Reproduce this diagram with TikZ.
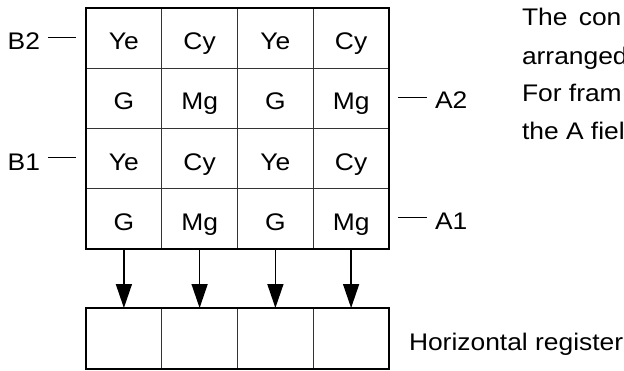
\documentclass[tikz,border=0pt]{standalone}
\usepackage{fontspec}
\setmainfont{Liberation Sans}[FakeStretch=1.1]
\usetikzlibrary{arrows.meta}
\tikzset{
  cell/.style={draw=black!80, line width=0.9pt, minimum width=75.75pt,
    minimum height=60.25pt, inner sep=0pt, outer sep=0pt,
    text height=23pt, text depth=0pt},
  regcell/.style={draw=black!80, line width=0.9pt, minimum width=75.75pt,
    minimum height=61pt, inner sep=0pt, outer sep=0pt},
  border/.style={line width=2pt},
  tickline/.style={line width=0.8pt},
  transfer/.style={line width=1.5pt, -{Triangle[width=16pt,length=24pt]}},
  lbl/.style={inner sep=0pt, outer sep=0pt}
}
\begin{document}
\begin{tikzpicture}[x=1pt,y=-1pt,font=\fontsize{24}{29}\selectfont]
      \useasboundingbox (0,0) rectangle (624,370);
      \clip (0,0) rectangle (624,370);
      % pixel array
      \draw
        (123.9,38.1) node[cell] (c11){Ye}
        (199.6,38.1) node[cell] (c12){Cy}
        (275.4,38.1) node[cell] (c13){Ye}
        (351.1,38.1) node[cell] (c14){Cy}
        (123.9,98.4) node[cell] (c21){G}
        (199.6,98.4) node[cell] (c22){Mg}
        (275.4,98.4) node[cell] (c23){G}
        (351.1,98.4) node[cell] (c24){Mg}
        (123.9,158.6) node[cell] (c31){Ye}
        (199.6,158.6) node[cell] (c32){Cy}
        (275.4,158.6) node[cell] (c33){Ye}
        (351.1,158.6) node[cell] (c34){Cy}
        (123.9,218.9) node[cell] (c41){G}
        (199.6,218.9) node[cell] (c42){Mg}
        (275.4,218.9) node[cell] (c43){G}
        (351.1,218.9) node[cell] (c44){Mg};
      % horizontal register
      \draw
        (123.9,338.5) node[regcell] (r1){}
        (199.6,338.5) node[regcell] (r2){}
        (275.4,338.5) node[regcell] (r3){}
        (351.1,338.5) node[regcell] (r4){};
      \draw[border] (c11.north west) rectangle (c44.south east);
      \draw[border] (r1.north west) rectangle (r4.south east);
      % labels
      \draw
        (40,49) node[lbl, anchor=base east] (B2){B2}
        (40,170) node[lbl, anchor=base east] (B1){B1}
        (435,108) node[lbl, anchor=base west] (A2){A2}
        (435,229) node[lbl, anchor=base west] (A1){A1}
        (409,350) node[lbl, anchor=base west] (hreg){Horizontal register}
        (522,25) node[lbl, anchor=base west] (t1){The\hspace{4pt} con}
        (522,64) node[lbl, anchor=base west] (t2){arranged}
        (522,101) node[lbl, anchor=base west] (t3){For fram}
        (522,139) node[lbl, anchor=base west] (t4){the A fiel};
      \coordinate (b2a) at (48,37);
      \coordinate (b2b) at (76,37);
      \coordinate (b1a) at (48,157);
      \coordinate (b1b) at (76,157);
      \coordinate (a2a) at (398,97);
      \coordinate (a2b) at (427,97);
      \coordinate (a1a) at (398,217);
      \coordinate (a1b) at (427,217);
      \begin{scope}[tickline]
        \draw (b2a) to (b2b);
        \draw (b1a) to (b1b);
        \draw (a2a) to (a2b);
        \draw (a1a) to (a1b);
      \end{scope}
      \begin{scope}[transfer]
        \draw (c41) to (r1);
        \draw (c42) to (r2);
        \draw (c43) to (r3);
        \draw (c44) to (r4);
      \end{scope}
    \end{tikzpicture}
\end{document}
